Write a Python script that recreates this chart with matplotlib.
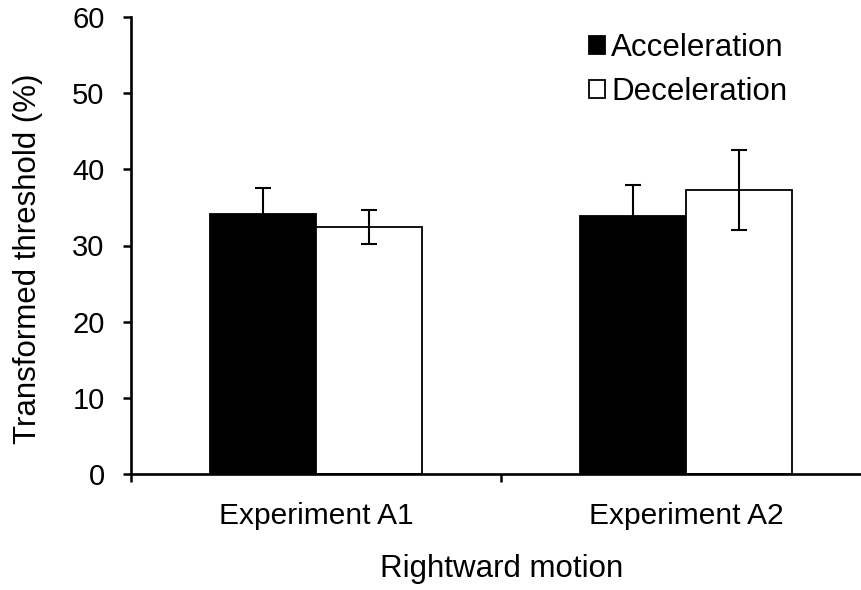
import matplotlib
matplotlib.use("Agg")
import matplotlib.pyplot as plt
import numpy as np

plt.rcParams['font.family'] = ['Liberation Sans', 'DejaVu Sans']

categories = ["Experiment A1", "Experiment A2"]
series_names = ["Acceleration", "Deceleration"]
acceleration = [34.2, 33.9]
acceleration_err = [3.4, 4.1]
deceleration = [32.4, 37.3]
deceleration_err = [2.2, 5.2]
y_ticks = [0, 10, 20, 30, 40, 50, 60]

W, H = 862, 590
fig = plt.figure(figsize=(W / 100, H / 100), dpi=100)
ax = fig.add_axes([131 / W, 1 - 474 / H, 740 / W, (474 - 17) / H])

centers = np.arange(len(categories)) + 0.5
width = 0.286
off = 0.143

b1 = ax.bar(centers - off, acceleration, width, color="black", edgecolor="black",
            linewidth=1.3, label=series_names[0], zorder=2)
b2 = ax.bar(centers + off, deceleration, width, color="white", edgecolor="black",
            linewidth=1.3, label=series_names[1], zorder=2)
ax.errorbar(centers - off, acceleration, yerr=acceleration_err, fmt="none",
            ecolor="black", elinewidth=1.5, capsize=5.8, capthick=1.5, zorder=3)
ax.errorbar(centers + off, deceleration, yerr=deceleration_err, fmt="none",
            ecolor="black", elinewidth=1.5, capsize=5.8, capthick=1.5, zorder=3)

ax.set_xlim(0, 2)
ax.set_ylim(0, 60)
ax.set_yticks(y_ticks)
ax.set_xticks([0, 1, 2])
ax.set_xticklabels([])
ax.set_xticks(centers, minor=True)
ax.set_xticklabels(categories, minor=True)
ax.tick_params(axis="x", which="major", direction="out", length=6, width=1.8)
ax.tick_params(axis="x", which="minor", length=0, pad=20, labelsize=21.5)
ax.tick_params(axis="y", direction="out", length=6, width=1.8, pad=13, labelsize=21)

for s in ["top", "right"]:
    ax.spines[s].set_visible(False)
for s in ["left", "bottom"]:
    ax.spines[s].set_linewidth(1.9)

fig.text(28 / W, 1 - 259 / H, "Transformed threshold (%)", fontsize=22.5,
         rotation=90, ha="center", va="center")
fig.text(502 / W, 1 - 577 / H, "Rightward motion", fontsize=22.5,
         ha="center", va="baseline")

leg = ax.legend(handles=[b1, b2], loc="upper left",
                bbox_to_anchor=(589 / W, 1 - 33 / H),
                bbox_transform=fig.transFigure, frameon=False, fontsize=22.5,
                handlelength=0.5, handleheight=0.5, handletextpad=0.2,
                labelspacing=0.45, borderaxespad=0, borderpad=0)

fig.savefig("out.png", dpi=100, facecolor="white")
